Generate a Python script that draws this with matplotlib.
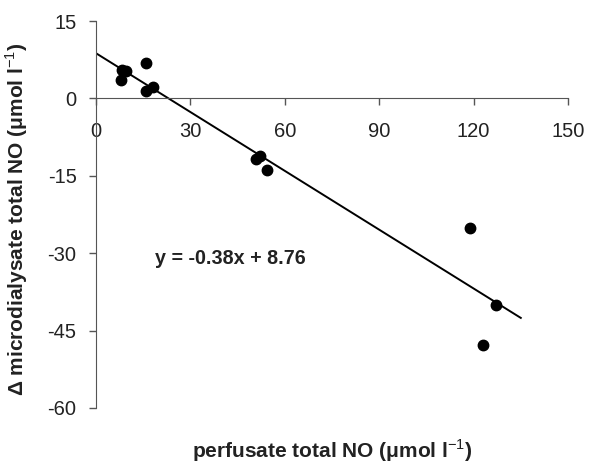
import numpy as np
import matplotlib
matplotlib.use('Agg')
import matplotlib.pyplot as plt

plt.rcParams['font.family'] = ['Liberation Sans', 'DejaVu Sans']
plt.rcParams['mathtext.fontset'] = 'custom'
plt.rcParams['mathtext.rm'] = 'Liberation Sans'
plt.rcParams['mathtext.bf'] = 'Liberation Sans:bold'
plt.rcParams['axes.unicode_minus'] = False

# perfusate total NO vs change in microdialysate total NO
perfusate = [7.9, 8.2, 9.5, 15.9, 15.9, 18.0, 50.8, 52.1, 54.4, 118.8, 127.0, 123.1]
delta_micro = [3.5, 5.6, 5.3, 6.9, 1.35, 2.2, -11.7, -11.2, -13.9, -25.1, -40.1, -47.8]

slope = -0.38
intercept = 8.76
fit_x = [0, 135]

xticks = [0, 30, 60, 90, 120, 150]
yticks = [15, 0, -15, -30, -45, -60]

fig = plt.figure(figsize=(5.9, 4.63), dpi=100)
ax = fig.add_axes([0.1627, 0.1188, 0.8, 0.8358])

fx = np.array(fit_x)
ax.plot(fx, slope * fx + intercept, color='black', lw=1.4, zorder=2)
ax.plot(perfusate, delta_micro, 'o', color='black', ms=7.5, zorder=3)

ax.set_xlim(0, 150)
ax.set_ylim(-60, 15)
ax.set_xticks(xticks)
ax.set_yticks(yticks)

axcol = '#555555'
ax.spines['top'].set_visible(False)
ax.spines['right'].set_visible(False)
ax.spines['bottom'].set_position(('data', 0))
ax.spines['bottom'].set_color(axcol)
ax.spines['left'].set_color(axcol)
ax.tick_params(axis='x', direction='out', length=5, width=1, color=axcol,
               pad=12, labelsize=14.5, labelcolor='#222222')
ax.tick_params(axis='y', direction='out', length=5, width=1, color=axcol,
               pad=9, labelsize=14.5, labelcolor='#222222')

ax.text(18.7, -31.0, 'y = -0.38x + 8.76', fontsize=14.2, fontweight='bold',
        va='center', ha='left', color='#222222')

ax.set_xlabel('perfusate total NO (\u03bcmol l$^{-1}$)', fontsize=15,
              fontweight='bold', color='#222222')
ax.xaxis.set_label_coords(0.5, -0.077)
ax.set_ylabel('\u0394 microdialysate total NO (\u03bcmol l$^{-1}$)', fontsize=15,
              fontweight='bold', color='#222222')
ax.yaxis.set_label_coords(-0.14, 0.487)

fig.savefig('out.png', dpi=100)
